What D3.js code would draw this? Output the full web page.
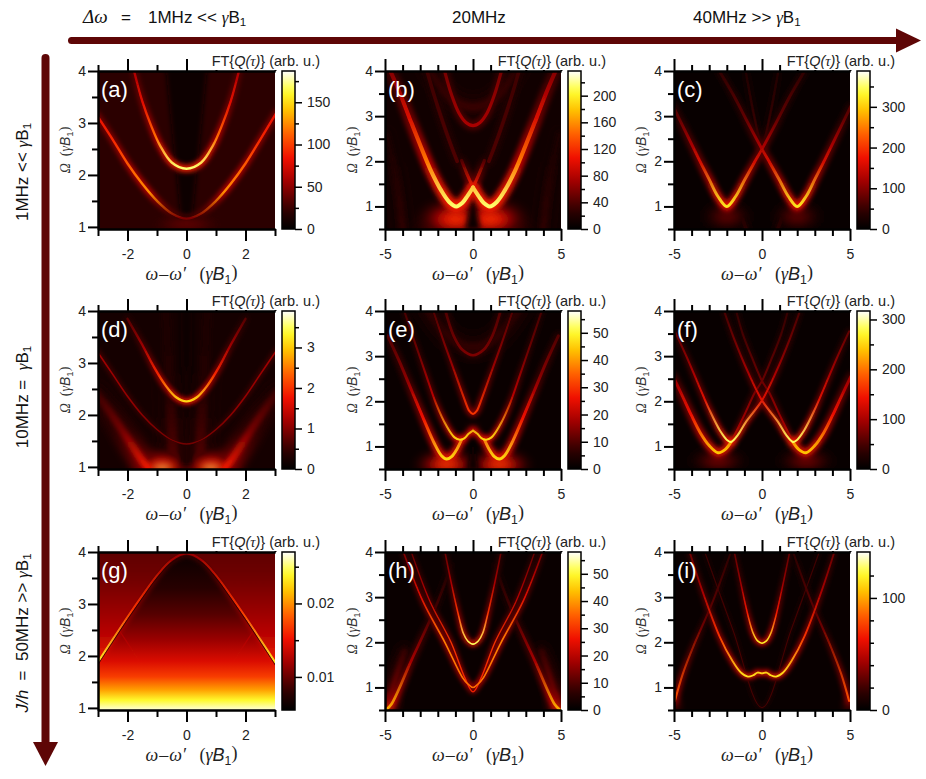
<!DOCTYPE html>
<html>
<head>
<meta charset="utf-8">
<script src="https://cdn.jsdelivr.net/npm/d3@7"></script>
<style>
  body { margin: 0; background: #fff; }
  svg { display: block; }
</style>
</head>
<body>
<div id="chart"></div>
<script>
// ---------------- data ----------------
// axis ranges per column (a,d,g | b,e,h | c,f,i)
const xDomains = [[-3, 3], [-5, 5], [-5, 5]];
const yDomains = [[0.96, 4], [0.5, 4], [0.5, 4]];
const xMajor = [[-2, 0, 2], [-5, 0, 5], [-5, 0, 5]];
const xMinor = [[-3, -1, 1, 3], [-4, -3, -2, -1, 1, 2, 3, 4], [-4, -3, -2, -1, 1, 2, 3, 4]];
const yMajor = [1, 2, 3, 4];
const yMinor = [0.5, 1.5, 2.5, 3.5];

// colour bars, one per panel a..i
const panelLetters = ['(a)', '(b)', '(c)', '(d)', '(e)', '(f)', '(g)', '(h)', '(i)'];
const cbarDomains = [[0, 187], [0, 237], [0, 388], [0, 3.9], [0, 58], [0, 317], [0.0055, 0.027], [0, 58], [0, 141]];
const cbarLabels = [[0, 50, 100, 150], [0, 40, 80, 120, 160, 200], [0, 100, 200, 300], [0, 1, 2, 3],
  [0, 10, 20, 30, 40, 50], [0, 100, 200, 300], [0.01, 0.02], [0, 10, 20, 30, 40, 50], [0, 100]];
const cbarMinor = [[25, 75, 125, 175], [20, 60, 100, 140, 180, 220], [50, 150, 250, 350], [0.5, 1.5, 2.5, 3.5],
  [5, 15, 25, 35, 45, 55], [50, 150, 250], [0.015, 0.025], [5, 15, 25, 35, 45, 55], [20, 40, 60, 80, 120]];

// dark level of the map away from the lines (arb. u.)
const panelBase = [20, 10, 8, 0.2, 1.5, 6, 0.0062, 1.5, 3];

// lines in the maps: p = [ω-ω', Ω] points, v = value from bottom to top of the line, w = width in Ω
const curvesA = [
  { p: [[-1.8, 4.05], [-1.5, 3.42], [-1.2, 2.95], [-0.9, 2.57], [-0.5, 2.24], [0, 2.12], [0.5, 2.24], [0.9, 2.57], [1.2, 2.95], [1.5, 3.42], [1.8, 4.05]], v: [170, 115, 80, 60], w: 0.045 },
  { p: [[-3.05, 3.16], [-2.5, 2.68], [-2, 2.22], [-1.5, 1.83], [-1, 1.5], [-0.5, 1.26], [0, 1.16], [0.5, 1.26], [1, 1.5], [1.5, 1.83], [2, 2.22], [2.5, 2.68], [3.05, 3.2]], v: [45, 125, 110, 92, 82], w: 0.045 }
];
const curvesB = [
  { p: [[-4.75, 4.05], [-4.2, 3.55], [-3.6, 2.95], [-3.0, 2.36], [-2.4, 1.8], [-1.8, 1.35], [-1.35, 1.1], [-0.95, 1.0], [-0.6, 1.08], [-0.3, 1.24], [0, 1.42]], v: [215, 150, 95, 60], w: 0.09 },
  { p: [[4.75, 4.05], [4.2, 3.55], [3.6, 2.95], [3.0, 2.36], [2.4, 1.8], [1.8, 1.35], [1.35, 1.1], [0.95, 1.0], [0.6, 1.08], [0.3, 1.24], [0, 1.42]], v: [215, 150, 95, 60], w: 0.09 },
  { p: [[0, 1.42], [0.3, 1.68], [0.65, 2.02]], v: [110, 40], w: 0.07 },
  { p: [[0, 1.42], [-0.3, 1.68], [-0.65, 2.02]], v: [110, 40], w: 0.07 },
  { p: [[-1.65, 4.05], [-1.2, 3.45], [-0.8, 3.07], [-0.4, 2.86], [0, 2.79], [0.4, 2.86], [0.8, 3.07], [1.2, 3.45], [1.65, 4.05]], v: [75, 55], w: 0.07 },
  { p: [[-2.5, 4.05], [-1.7, 3.58], [-0.9, 3.3], [0, 3.2], [0.9, 3.3], [1.7, 3.58], [2.5, 4.05]], v: [32, 26], w: 0.18 },
  { p: [[-2.65, 4.05], [-2.2, 3.45], [-1.7, 2.85], [-1.2, 2.3], [-0.9, 2.0]], v: [40, 34], w: 0.08 },
  { p: [[2.65, 4.05], [2.2, 3.45], [1.7, 2.85], [1.2, 2.3], [0.9, 2.0]], v: [40, 34], w: 0.08 },
  { p: [[-4.0, 0.5], [-4.2, 1.2], [-4.5, 1.9], [-4.9, 2.6]], v: [28, 16], w: 0.15 },
  { p: [[4.0, 0.5], [4.2, 1.2], [4.5, 1.9], [4.9, 2.6]], v: [28, 16], w: 0.15 }
];
const curvesC = [
  { p: [[-5.05, 3.22], [-4.5, 2.78], [-4, 2.38], [-3.5, 1.98], [-3, 1.6], [-2.5, 1.22], [-2, 1.0], [-1.5, 1.22], [-1, 1.58], [-0.5, 1.93], [0, 2.27], [0.8, 2.85], [1.6, 3.45], [2.5, 4.05]], v: [320, 150, 75, 45], w: 0.065 },
  { p: [[5.05, 3.22], [4.5, 2.78], [4, 2.38], [3.5, 1.98], [3, 1.6], [2.5, 1.22], [2, 1.0], [1.5, 1.22], [1, 1.58], [0.5, 1.93], [0, 2.27], [-0.8, 2.85], [-1.6, 3.45], [-2.5, 4.05]], v: [320, 150, 75, 45], w: 0.065 },
  { p: [[-0.95, 4.05], [-0.6, 3.3], [-0.25, 2.65], [0, 2.27]], v: [55, 32], w: 0.05 },
  { p: [[0.95, 4.05], [0.6, 3.3], [0.25, 2.65], [0, 2.27]], v: [55, 32], w: 0.05 },
  { p: [[-0.9, 0.5], [-1.2, 0.8], [-1.6, 1.05]], v: [40, 30], w: 0.08 },
  { p: [[0.9, 0.5], [1.2, 0.8], [1.6, 1.05]], v: [40, 30], w: 0.08 }
];
const curvesD = [
  { p: [[-2.0, 3.85], [-1.5, 3.35], [-1.1, 2.92], [-0.7, 2.56], [-0.35, 2.34], [0, 2.26], [0.35, 2.34], [0.7, 2.56], [1.1, 2.92], [1.5, 3.35], [2.0, 3.85]], v: [3.1, 1.9, 1.15, 0.7], w: 0.045 },
  { p: [[-3.05, 3.24], [-2.5, 2.78], [-2, 2.36], [-1.5, 2.0], [-1, 1.72], [-0.5, 1.52], [0, 1.44], [0.5, 1.52], [1, 1.72], [1.5, 2.0], [2, 2.36], [2.5, 2.78], [3.05, 3.24]], v: [0.9, 1.1, 1.2], w: 0.03 },
  { p: [[-3.05, 2.42], [-2.5, 1.98], [-2, 1.55], [-1.6, 1.2], [-1.3, 0.98]], v: [1.8, 0.9, 0.55], w: 0.15 },
  { p: [[3.05, 2.42], [2.5, 1.98], [2, 1.55], [1.6, 1.2], [1.3, 0.98]], v: [1.8, 0.9, 0.55], w: 0.15 },
  { p: [[-0.45, 0.98], [-0.5, 1.8], [-0.6, 2.8], [-0.7, 4.05]], v: [0.7, 0.35, 0.25], w: 0.2 },
  { p: [[0.45, 0.98], [0.5, 1.8], [0.6, 2.8], [0.7, 4.05]], v: [0.7, 0.35, 0.25], w: 0.2 }
];
const curvesE = [
  { p: [[-4.85, 3.45], [-4.2, 2.9], [-3.5, 2.25], [-2.8, 1.6], [-2.2, 1.07], [-1.8, 0.8], [-1.5, 0.72], [-1.2, 0.78], [-0.9, 0.95], [-0.65, 1.15]], v: [46, 26, 15, 10], w: 0.065 },
  { p: [[4.85, 3.45], [4.2, 2.9], [3.5, 2.25], [2.8, 1.6], [2.2, 1.07], [1.8, 0.8], [1.5, 0.72], [1.2, 0.78], [0.9, 0.95], [0.65, 1.15]], v: [46, 26, 15, 10], w: 0.065 },
  { p: [[-3.95, 4.05], [-3.3, 3.3], [-2.7, 2.62], [-2.1, 1.95], [-1.5, 1.45], [-1.05, 1.2], [-0.75, 1.15], [-0.5, 1.18], [-0.25, 1.28], [0, 1.35]], v: [46, 20, 13, 9], w: 0.045 },
  { p: [[3.95, 4.05], [3.3, 3.3], [2.7, 2.62], [2.1, 1.95], [1.5, 1.45], [1.05, 1.2], [0.75, 1.15], [0.5, 1.18], [0.25, 1.28], [0, 1.35]], v: [46, 20, 13, 9], w: 0.045 },
  { p: [[-2.3, 4.05], [-1.6, 3.25], [-1.0, 2.6], [-0.5, 2.06], [-0.2, 1.78], [0, 1.72], [0.2, 1.78], [0.5, 2.06], [1.0, 2.6], [1.6, 3.25], [2.3, 4.05]], v: [30, 16, 10], w: 0.045 },
  { p: [[-1.6, 4.05], [-1.1, 3.45], [-0.6, 3.14], [0, 3.02], [0.6, 3.14], [1.1, 3.45], [1.6, 4.05]], v: [14, 10], w: 0.06 },
  { p: [[-2.6, 4.05], [-1.6, 3.52], [-0.8, 3.28], [0, 3.2], [0.8, 3.28], [1.6, 3.52], [2.6, 4.05]], v: [7, 6], w: 0.2 }
];
const curvesF = [
  { p: [[-5.05, 2.55], [-4.5, 2.1], [-4, 1.68], [-3.5, 1.3], [-3, 1.02], [-2.5, 0.86], [-2.1, 0.93], [-1.75, 1.1]], v: [240, 140, 90], w: 0.065 },
  { p: [[5.05, 2.55], [4.5, 2.1], [4, 1.68], [3.5, 1.3], [3, 1.02], [2.5, 0.86], [2.1, 0.93], [1.75, 1.1]], v: [240, 140, 90], w: 0.065 },
  { p: [[-4.95, 3.55], [-4.3, 3.0], [-3.6, 2.36], [-3, 1.82], [-2.4, 1.36], [-1.95, 1.13], [-1.75, 1.1], [-1.4, 1.24], [-0.9, 1.55], [0, 2.02], [0.8, 2.65], [1.6, 3.4], [2.2, 4.05]], v: [285, 130, 80, 50], w: 0.045 },
  { p: [[4.95, 3.55], [4.3, 3.0], [3.6, 2.36], [3, 1.82], [2.4, 1.36], [1.95, 1.13], [1.75, 1.1], [1.4, 1.24], [0.9, 1.55], [0, 2.02], [-0.8, 2.65], [-1.6, 3.4], [-2.2, 4.05]], v: [285, 130, 80, 50], w: 0.045 },
  { p: [[-1.75, 1.1], [-1.0, 1.7], [-0.4, 2.2], [0, 2.45], [0.5, 2.9], [1.1, 3.5], [1.5, 4.05]], v: [110, 65, 40], w: 0.045 },
  { p: [[1.75, 1.1], [1.0, 1.7], [0.4, 2.2], [0, 2.45], [-0.5, 2.9], [-1.1, 3.5], [-1.5, 4.05]], v: [110, 65, 40], w: 0.045 }
];
const curvesG = [
  { p: [[-0.55, 2.2], [-0.3, 2.04], [0, 1.99], [0.3, 2.04], [0.55, 2.2]], v: [0.0128, 0.0122], w: 0.025 },
  { p: [[-2.7, 2.85], [-2.0, 2.25], [-1.3, 1.65], [-0.6, 1.2], [0, 1.02]], v: [0.0185, 0.0135, 0.0115], w: 0.025 },
  { p: [[2.7, 2.85], [2.0, 2.25], [1.3, 1.65], [0.6, 1.2], [0, 1.02]], v: [0.0185, 0.0135, 0.0115], w: 0.025 }
];
const curvesH = [
  { p: [[-1.62, 4.05], [-1.2, 3.25], [-0.8, 2.56], [-0.55, 2.2], [-0.3, 2.03], [0, 1.96], [0.3, 2.03], [0.55, 2.2], [0.8, 2.56], [1.2, 3.25], [1.62, 4.05]], v: [52, 30, 18, 12], w: 0.035 },
  { p: [[-4.0, 4.05], [-2.85, 2.91], [-1.6, 2.0], [-0.6, 1.22], [-0.3, 1.08], [0, 1.0], [0.3, 1.08], [0.6, 1.22], [1.6, 2.0], [2.85, 2.91], [4.0, 4.05]], v: [36, 38, 24, 14], w: 0.035 },
  { p: [[-3.55, 4.05], [-2.45, 2.91], [-1.25, 2.0], [-0.45, 1.2], [0, 0.9], [0.45, 1.2], [1.25, 2.0], [2.45, 2.91], [3.55, 4.05]], v: [28, 30, 20, 12], w: 0.03 },
  { p: [[-4.95, 0.5], [-4.65, 0.62], [-3.5, 1.6], [-2.47, 2.47], [-1.8, 3.1], [-1.25, 3.7]], v: [42, 18, 9, 4], w: 0.06 },
  { p: [[4.95, 0.5], [4.65, 0.62], [3.5, 1.6], [2.47, 2.47], [1.8, 3.1], [1.25, 3.7]], v: [42, 18, 9, 4], w: 0.06 },
  { p: [[-4.9, 0.55], [-4.3, 1.3], [-3.9, 1.8]], v: [16, 8], w: 0.12 },
  { p: [[4.9, 0.55], [4.3, 1.3], [3.9, 1.8]], v: [16, 8], w: 0.12 }
];
const curvesI = [
  { p: [[-1.6, 4.05], [-1.2, 3.3], [-0.8, 2.6], [-0.5, 2.2], [-0.25, 2.03], [0, 1.98], [0.25, 2.03], [0.5, 2.2], [0.8, 2.6], [1.2, 3.3], [1.6, 4.05]], v: [120, 65, 40, 28], w: 0.035 },
  { p: [[-4.15, 4.05], [-3.4, 3.15], [-2.4, 2.12], [-1.7, 1.6], [-1.2, 1.33], [-0.8, 1.24], [-0.5, 1.27], [-0.25, 1.33], [0, 1.31], [0.25, 1.33], [0.5, 1.27], [0.8, 1.24], [1.2, 1.33], [1.7, 1.6], [2.4, 2.12], [3.4, 3.15], [4.15, 4.05]], v: [115, 72, 45, 30], w: 0.04 },
  { p: [[-3.3, 4.05], [-1.65, 2.27], [0, 0.55], [1.65, 2.27], [3.3, 4.05]], v: [22, 22, 20], w: 0.025 },
  { p: [[-4.95, 0.7], [-4.5, 1.3], [-3.9, 1.91], [-2.8, 2.9], [-1.72, 4.05]], v: [80, 30, 15], w: 0.045 },
  { p: [[4.95, 0.7], [4.5, 1.3], [3.9, 1.91], [2.8, 2.9], [1.72, 4.05]], v: [80, 30, 15], w: 0.045 }
];

// diffuse bright patches: centre, half widths, value
const glowA = [{ x: 0, y: 1.05, rx: 1.8, ry: 0.28, v: 40 }];
const glowB = [{ x: -1.0, y: 0.72, rx: 2.4, ry: 0.5, v: 125 }, { x: 1.0, y: 0.72, rx: 2.4, ry: 0.5, v: 125 }, { x: 0, y: 0.5, rx: 4.2, ry: 0.45, v: 70 }];
const glowC = [{ x: -2, y: 0.78, rx: 1.7, ry: 0.4, v: 80 }, { x: 2, y: 0.78, rx: 1.7, ry: 0.4, v: 80 }];
const glowD = [{ x: -0.82, y: 0.98, rx: 0.62, ry: 0.11, v: 3.8 }, { x: 0.82, y: 0.98, rx: 0.62, ry: 0.11, v: 3.8 },
  { x: -0.85, y: 1.0, rx: 1.15, ry: 0.4, v: 1.9 }, { x: 0.85, y: 1.0, rx: 1.15, ry: 0.4, v: 1.9 }];
const glowE = [{ x: -1.5, y: 0.6, rx: 2.0, ry: 0.36, v: 32 }, { x: 1.5, y: 0.6, rx: 2.0, ry: 0.36, v: 32 }, { x: 0, y: 1.35, rx: 0.35, ry: 0.12, v: 26 }];
const glowF = [{ x: -2.5, y: 0.68, rx: 1.9, ry: 0.34, v: 75 }, { x: 2.5, y: 0.68, rx: 1.9, ry: 0.34, v: 75 },
  { x: -1.75, y: 1.1, rx: 0.18, ry: 0.07, v: 300 }, { x: 1.75, y: 1.1, rx: 0.18, ry: 0.07, v: 300 }, { x: 0, y: 2.03, rx: 0.22, ry: 0.09, v: 120 }];
const glowG = [];
const glowH = [{ x: -4.85, y: 0.53, rx: 0.3, ry: 0.09, v: 48 }, { x: 4.85, y: 0.53, rx: 0.3, ry: 0.09, v: 48 },
  { x: -4.7, y: 0.7, rx: 0.6, ry: 0.5, v: 18 }, { x: 4.7, y: 0.7, rx: 0.6, ry: 0.5, v: 18 }];
const glowI = [{ x: -4.92, y: 0.62, rx: 0.22, ry: 0.25, v: 60 }, { x: 4.92, y: 0.62, rx: 0.22, ry: 0.25, v: 60 }];

// darker patches
const shadeA = [{ p: [[-0.2, 1.22], [0.2, 1.22], [0.7, 4.05], [-0.7, 4.05]], v: 6 }];
const shadeB = [{ p: [[0, 1.42], [-0.42, 0.48], [0.42, 0.48]], v: 4 }];
const shadeE = [{ p: [[0, 1.3], [-0.3, 0.48], [0.3, 0.48]], v: 1 }];
const shadeD = [{ p: [[-0.15, 1.05], [0.15, 1.05], [0.2, 4.05], [-0.2, 4.05]], v: 0.08 }];

// panel (g): vertical profile inside and outside the Λ edge, and the edge itself
const gInside = [[0.96, 0.0265], [1.15, 0.024], [1.35, 0.0205], [1.6, 0.017], [1.9, 0.0143], [2.3, 0.0118], [2.8, 0.0094], [3.3, 0.0076], [3.9, 0.0062]];
const gOutside = [[1.85, 0.0158], [2.4, 0.013], [3.0, 0.0114], [3.5, 0.0103], [4.0, 0.0097]];
const lambdaG = [[-3.05, 1.84], [-2.5, 2.32], [-2, 2.75], [-1.5, 3.16], [-1, 3.55], [-0.5, 3.85], [0, 3.97], [0.5, 3.85], [1, 3.55], [1.5, 3.16], [2, 2.75], [2.5, 2.32], [3.05, 1.84]];
const lambdaV = [0.0235, 0.0165, 0.0118];

const panelCurves = [curvesA, curvesB, curvesC, curvesD, curvesE, curvesF, curvesG, curvesH, curvesI];
const panelGlows = [glowA, glowB, glowC, glowD, glowE, glowF, glowG, glowH, glowI];
const panelShades = [shadeA, shadeB, [], shadeD, shadeE, [], [], [], []];

// ---------------- layout ----------------
const W = 926, H = 779;
const colLeft = [98, 385, 674], colWidth = [177, 176, 176];
const rowTop = [71, 311, 552], plotH = 158;
const maroon = '#5e0606';
const sans = 'Liberation Sans, Arial, sans-serif';
const serif = 'Liberation Serif, Times New Roman, serif';

// yellow-hot colour map
const cmap = d3.scaleLinear()
  .domain([0, 0.12, 0.3, 0.45, 0.6, 0.75, 0.87, 1])
  .range(['#000000', '#300000', '#a00000', '#f01000', '#ff6000', '#ffc000', '#ffff30', '#ffffff'])
  .interpolate(d3.interpolateRgb).clamp(true);

const svg = d3.select('#chart').append('svg').attr('width', W).attr('height', H);
const defs = svg.append('defs');

function addBlur(id, sd) {
  defs.append('filter').attr('id', id).attr('filterUnits', 'userSpaceOnUse')
    .attr('x', 0).attr('y', 0).attr('width', W).attr('height', H)
    .append('feGaussianBlur').attr('stdDeviation', sd);
}
addBlur('blur-core', 0.55);
addBlur('blur-wide', 2.2);
addBlur('blur-halo', 2.6);
addBlur('blur-halo-wide', 5);
addBlur('blur-shade', 2.5);
addBlur('blur-soft', 1.2);
addBlur('blur-glow', 4);

// ---------------- arrows and headings ----------------
svg.append('rect').attr('x', 68).attr('y', 37).attr('width', 832).attr('height', 7).attr('rx', 3.5).attr('fill', maroon);
svg.append('path').attr('d', 'M896,28.5 L921,40.5 L896,52.5 Z').attr('fill', maroon);
svg.append('rect').attr('x', 41.5).attr('y', 54).attr('width', 8).attr('height', 692).attr('rx', 4).attr('fill', maroon);
svg.append('path').attr('d', 'M33,742 L58,742 L45.5,766 Z').attr('fill', maroon);

function gammaB(sel, italicB) {
  sel.append('tspan').attr('font-family', serif).attr('font-style', 'italic').text('γ');
  sel.append('tspan').attr('font-style', italicB ? 'italic' : 'normal').text('B');
  sel.append('tspan').attr('font-size', '68%').attr('dy', '0.3em').text('1');
}

const head = svg.append('g').attr('font-family', sans).attr('font-size', 17).attr('fill', '#111');
head.append('text').attr('x', 83).attr('y', 23).attr('font-family', serif).attr('font-style', 'italic').attr('font-size', 19).text('Δω');
head.append('text').attr('x', 121).attr('y', 23).text('=');
const h1 = head.append('text').attr('x', 148).attr('y', 23).text('1MHz << ');
gammaB(h1, false);
head.append('text').attr('x', 452).attr('y', 23).text('20MHz');
const h3 = head.append('text').attr('x', 693).attr('y', 23).text('40MHz >> ');
gammaB(h3, false);

const rowLab = [
  { cy: 172, parts: [['1MHz << ', null]] },
  { cy: 397, parts: [['10MHz =  ', null]] },
  { cy: 633, parts: [['J/h', 'it'], ['  =  50MHz >> ', null]] }
];
rowLab.forEach(r => {
  const t = svg.append('text').attr('transform', `translate(28,${r.cy}) rotate(-90)`)
    .attr('text-anchor', 'middle').attr('font-family', sans).attr('font-size', 17).attr('fill', '#111')
    .attr('xml:space', 'preserve');
  r.parts.forEach(([s, st]) => t.append('tspan').attr('font-style', st ? 'italic' : 'normal').text(s));
  gammaB(t, false);
});

// ---------------- panels ----------------
const line = (x, y) => d3.line().x(d => x(d[0])).y(d => y(d[1])).curve(d3.curveCatmullRom.alpha(0.5));

function drawPanel(k) {
  const col = k % 3, row = Math.floor(k / 3);
  const L = colLeft[col], R = L + colWidth[col], T = rowTop[row], B = T + plotH;
  const x = d3.scaleLinear().domain(xDomains[col]).range([L, R]);
  const y = d3.scaleLinear().domain(yDomains[col]).range([B, T]);
  const cnorm = d3.scaleLinear().domain(cbarDomains[k]).range([0, 1]);
  const color = v => cmap(cnorm(v));
  const pxPerOmega = plotH / (yDomains[col][1] - yDomains[col][0]);
  const lo = cbarDomains[k][0];

  defs.append('clipPath').attr('id', `clip-${k}`)
    .append('rect').attr('x', L).attr('y', T).attr('width', R - L).attr('height', B - T);
  const g = svg.append('g').attr('clip-path', `url(#clip-${k})`).style('isolation', 'isolate');

  g.append('rect').attr('x', L).attr('y', T).attr('width', R - L).attr('height', B - T)
    .attr('fill', color(panelBase[k]));

  // vertical profile gradient helper (Ω-keyed stops)
  function profile(id, stops) {
    const gr = defs.append('linearGradient').attr('id', id).attr('gradientUnits', 'userSpaceOnUse')
      .attr('x1', 0).attr('x2', 0).attr('y1', T).attr('y2', B);
    stops.slice().sort((a, b) => b[0] - a[0]).forEach(([om, v]) =>
      gr.append('stop').attr('offset', Math.max(0, Math.min(1, (y(om) - T) / (B - T)))).attr('stop-color', color(v)));
    return `url(#${id})`;
  }

  if (k === 6) {
    g.append('rect').attr('x', L).attr('y', T).attr('width', R - L).attr('height', B - T)
      .attr('fill', profile('g-in', gInside));
    const outFill = profile('g-out', gOutside);
    const left = lambdaG.filter(d => d[0] <= 0);
    const right = lambdaG.filter(d => d[0] >= 0);
    const top = yDomains[col][1] + 0.1;
    const corner = d3.line().x(d => x(d[0])).y(d => y(d[1])).curve(d3.curveCatmullRom.alpha(0.5));
    [[[left[0][0], top], ...left, [0, top]], [[0, top], ...right, [right[right.length - 1][0], top]]].forEach(poly => {
      g.append('path').attr('d', corner(poly) + 'Z').attr('fill', outFill).attr('filter', 'url(#blur-soft)');
    });
  }

  // diffuse patches with a soft fall-off
  panelGlows[k].forEach((b, i) => {
    const id = `glow-${k}-${i}`;
    const rg = defs.append('radialGradient').attr('id', id);
    [[0, 1, 1], [0.3, 0.85, 0.9], [0.55, 0.6, 0.6], [0.8, 0.4, 0.25], [1, 0.3, 0]].forEach(([o, f, op]) =>
      rg.append('stop').attr('offset', o).attr('stop-color', color(lo + (b.v - lo) * f)).attr('stop-opacity', op));
    g.append('ellipse').attr('cx', x(b.x)).attr('cy', y(b.y))
      .attr('rx', Math.abs(x(b.x + b.rx) - x(b.x))).attr('ry', Math.abs(y(b.y) - y(b.y + b.ry)))
      .attr('fill', `url(#${id})`).attr('filter', 'url(#blur-glow)').style('mix-blend-mode', 'lighten');
  });

  // darker patches
  panelShades[k].forEach(s => {
    g.append('path').attr('d', d3.line().x(d => x(d[0])).y(d => y(d[1])).curve(d3.curveLinearClosed)(s.p))
      .attr('fill', color(s.v)).attr('filter', 'url(#blur-shade)');
  });

  // lines: halo + core, coloured along Ω through gradient stops
  const curves = panelCurves[k].slice();
  if (k === 6) curves.unshift({ p: lambdaG, v: lambdaV, w: 0.04 });
  const path = line(x, y);
  curves.forEach((c, i) => {
    const oms = c.p.map(d => d[1]);
    const y1 = y(Math.max(d3.min(oms), yDomains[col][0])), y2 = y(Math.min(d3.max(oms), yDomains[col][1]));
    const wide = c.w >= 0.12;
    ['halo', 'core'].forEach(layer => {
      const id = `cg-${k}-${i}-${layer}`;
      const gr = defs.append('linearGradient').attr('id', id).attr('gradientUnits', 'userSpaceOnUse')
        .attr('x1', 0).attr('x2', 0).attr('y1', y1).attr('y2', y2 - 0.01);
      const f = layer === 'halo' ? 0.52 : 1;
      c.v.forEach((v, j) => gr.append('stop')
        .attr('offset', c.v.length > 1 ? j / (c.v.length - 1) : 0)
        .attr('stop-color', color(lo + (v - lo) * f)));
      const wpx = Math.max(1.1, c.w * pxPerOmega);
      const filt = layer === 'halo' ? (wide ? 'blur-halo-wide' : 'blur-halo') : (wide ? 'blur-wide' : 'blur-core');
      g.append('path').attr('d', path(c.p)).attr('fill', 'none')
        .attr('stroke', `url(#${id})`)
        .attr('stroke-width', layer === 'halo' ? wpx * 3 : wpx)
        .attr('stroke-linecap', 'round').attr('stroke-linejoin', 'round')
        .attr('filter', `url(#${filt})`)
        .style('mix-blend-mode', 'lighten');
    });
  });

  if (k === 6) {
    g.append('path').attr('d', path(lambdaG)).attr('fill', 'none')
      .attr('transform', 'translate(0,2.6)')
      .attr('stroke', color(0.0075)).attr('stroke-width', 1).attr('stroke-opacity', 0.8)
      .attr('filter', 'url(#blur-core)');
  }

  // panel letter
  svg.append('text').attr('x', L + 3).attr('y', T + 26).attr('font-family', sans).attr('font-size', 22)
    .attr('fill', '#fff').text(panelLetters[k]);

  // axes
  const axes = svg.append('g').attr('font-family', sans);
  const fmt = d => String(d);
  const styleAxis = sel => {
    sel.selectAll('.domain').attr('stroke', '#000').attr('stroke-width', 2);
    sel.selectAll('.tick line').attr('stroke', '#000').attr('stroke-width', 2);
    sel.selectAll('.tick text').attr('font-size', 14).attr('fill', '#222').attr('font-family', sans);
  };
  axes.append('g').attr('transform', `translate(0,${B})`)
    .call(d3.axisBottom(x).tickValues(xMajor[col]).tickSize(12).tickSizeOuter(0).tickPadding(8).tickFormat(fmt)).call(styleAxis);
  axes.append('g').attr('transform', `translate(0,${B})`)
    .call(d3.axisBottom(x).tickValues(xMinor[col]).tickSize(7).tickSizeOuter(0).tickFormat('')).call(styleAxis);
  axes.append('g').attr('transform', `translate(0,${T})`)
    .call(d3.axisTop(x).tickValues(xMajor[col]).tickSize(12).tickSizeOuter(0).tickFormat('')).call(styleAxis);
  axes.append('g').attr('transform', `translate(0,${T})`)
    .call(d3.axisTop(x).tickValues(xMinor[col]).tickSize(6).tickSizeOuter(0).tickFormat('')).call(styleAxis);
  axes.append('g').attr('transform', `translate(${L},0)`)
    .call(d3.axisLeft(y).tickValues(yMajor).tickSize(10).tickSizeOuter(0).tickPadding(2).tickFormat(fmt)).call(styleAxis);
  axes.append('g').attr('transform', `translate(${L},0)`)
    .call(d3.axisLeft(y).tickValues(yMinor.filter(v => v >= yDomains[col][0])).tickSize(6).tickSizeOuter(0).tickFormat('')).call(styleAxis);

  // axis titles
  const xt = svg.append('text').attr('x', (L + R) / 2 + 5).attr('y', B + 51).attr('text-anchor', 'middle')
    .attr('font-family', sans).attr('font-size', 18).attr('fill', '#222').attr('xml:space', 'preserve');
  xt.append('tspan').attr('font-family', serif).attr('font-style', 'italic').text('ω');
  xt.append('tspan').attr('font-family', serif).attr('dx', 1).text('–');
  xt.append('tspan').attr('font-family', serif).attr('font-style', 'italic').attr('dx', 1).text('ω′');
  xt.append('tspan').attr('font-family', serif).text('   (');
  gammaB(xt, true);
  xt.append('tspan').attr('dy', '-0.3em').attr('font-family', serif).text(')');

  const yt = svg.append('text').attr('transform', `translate(${L - 28},${(T + B) / 2}) rotate(-90)`)
    .attr('text-anchor', 'middle').attr('font-family', sans).attr('font-size', 14).attr('fill', '#333')
    .attr('xml:space', 'preserve');
  yt.append('tspan').attr('font-family', serif).attr('font-style', 'italic').text('Ω');
  yt.append('tspan').attr('font-family', serif).text('  (');
  gammaB(yt, true);
  yt.append('tspan').attr('dy', '-0.3em').attr('font-family', serif).text(')');

  // colour bar
  const cbL = R + 7, cbW = 13;
  const cs = d3.scaleLinear().domain(cbarDomains[k]).range([B, T]);
  const cg = defs.append('linearGradient').attr('id', `cb-${k}`).attr('x1', 0).attr('x2', 0).attr('y1', 1).attr('y2', 0);
  d3.range(0, 1.0001, 0.05).forEach(t => cg.append('stop').attr('offset', t).attr('stop-color', cmap(t)));
  svg.append('rect').attr('x', cbL).attr('y', T).attr('width', cbW).attr('height', plotH)
    .attr('fill', `url(#cb-${k})`).attr('stroke', '#000').attr('stroke-width', 1.5);
  const cax = svg.append('g').attr('transform', `translate(${cbL + cbW},0)`);
  cax.append('g').call(d3.axisRight(cs).tickValues(cbarLabels[k]).tickSize(7).tickSizeOuter(0).tickPadding(5).tickFormat(fmt)).call(styleAxis);
  cax.append('g').call(d3.axisRight(cs).tickValues(cbarMinor[k]).tickSize(4).tickSizeOuter(0).tickFormat('')).call(styleAxis);
  cax.selectAll('.domain').remove();
  cax.selectAll('.tick line').attr('stroke-width', 1.5);

  // colour bar title on white
  const tg = svg.append('g');
  const bg = tg.append('rect').attr('fill', '#fff');
  const tt = tg.append('text').attr('x', cbL + cbW + 25).attr('y', T - 5).attr('text-anchor', 'end')
    .attr('font-family', sans).attr('font-size', 14.5).attr('fill', '#222');
  tt.append('tspan').text('FT{');
  tt.append('tspan').attr('font-style', 'italic').text('Q(');
  tt.append('tspan').attr('font-family', serif).attr('font-style', 'italic').text('τ');
  tt.append('tspan').attr('font-style', 'italic').text(')');
  tt.append('tspan').text('} (arb. u.)');
  const bb = tt.node().getBBox();
  bg.attr('x', bb.x - 2).attr('y', bb.y).attr('width', bb.width + 3).attr('height', T - bb.y - 1);
}

d3.range(9).forEach(drawPanel);
</script>
</body>
</html>
